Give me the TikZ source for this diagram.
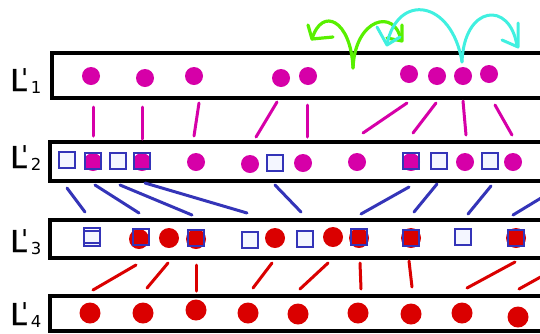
\documentclass[tikz,border=0pt]{standalone}
\usepackage{fontspec}
\setmainfont{DejaVu Sans}
\newfontfamily\boldL[FakeBold=1.2]{DejaVu Sans}
\definecolor{mag}{RGB}{214,0,168}
\definecolor{rd}{RGB}{218,0,0}
\definecolor{blu}{RGB}{52,52,184}
\definecolor{grn}{RGB}{88,240,0}
\definecolor{cyn}{RGB}{64,240,224}
\definecolor{sqfill}{RGB}{244,246,255}
\tikzset{
  lane/.style={draw=black, line width=3.5pt, anchor=north west, inner sep=0pt, outer sep=0pt},
  mdot/.style={circle, fill=mag, minimum size=18pt, inner sep=0pt},
  rdot/.style={circle, fill=rd, minimum size=20pt, inner sep=0pt},
  esq/.style={rectangle, draw=blu, line width=1.8pt, fill=sqfill, minimum size=16pt, inner sep=0pt},
  osq/.style={rectangle, draw=blu, line width=1.8pt, minimum size=16pt, inner sep=0pt},
  mline/.style={draw=mag, line width=3pt, line cap=round},
  bline/.style={draw=blu, line width=3pt, line cap=round},
  rline/.style={draw=rd, line width=3pt, line cap=round},
  garrow/.style={draw=grn, line width=3.2pt, line cap=round, line join=round},
  carrow/.style={draw=cyn, line width=3pt, line cap=round, line join=round},
  lab/.style={anchor=base west, inner sep=0pt, font=\fontsize{30}{30}\selectfont}
}
\newcommand{\lbl}[1]{{\boldL L}\kern-5.7pt\raisebox{4pt}{\fontsize{26}{26}\selectfont\textquotesingle}\kern2.5pt\raisebox{-2pt}{\fontsize{16.5}{16.5}\selectfont #1}}
\begin{document}
\begin{tikzpicture}[x=1pt,y=-1pt]
\useasboundingbox (0,0) rectangle (540,333);
\clip (0,0) rectangle (540,333);
% lanes
\node[lane, minimum width=493pt, minimum height=45pt] (L1) at (52,53) {};
\node[lane, minimum width=500pt, minimum height=39pt] (L2) at (50,142) {};
\node[lane, minimum width=500pt, minimum height=38pt] (L3) at (50,220) {};
\node[lane, minimum width=500pt, minimum height=35pt] (L4) at (50,296) {};
% labels
\node[lab] (t1) at (10,91) {\lbl{1}};
\node[lab] (t2) at (10,168) {\lbl{2}};
\node[lab] (t3) at (10,252) {\lbl{3}};
\node[lab] (t4) at (10,325) {\lbl{4}};
% row 1
\node[mdot] (a1) at (91,76) {};
\node[mdot] (a2) at (145,78) {};
\node[mdot] (a3) at (194,76) {};
\node[mdot] (a4) at (281,78) {};
\node[mdot] (a5) at (308,76) {};
\node[mdot] (a6) at (409,74) {};
\node[mdot] (a7) at (437,76) {};
\node[mdot] (a8) at (463,76) {};
\node[mdot] (a9) at (489,74) {};
% row 2
\node[esq] (b1) at (67,160) {};
\node[mdot] (b2) at (93,162) {};
\node[osq] (b2s) at (93,161) {};
\node[esq] (b3) at (118,161) {};
\node[mdot] (b4) at (142,162) {};
\node[osq] (b4s) at (142,161) {};
\node[mdot] (b5) at (196,162) {};
\node[mdot] (b6) at (250,164) {};
\node[esq] (b7) at (275,163) {};
\node[mdot] (b8) at (303,163) {};
\node[mdot] (b9) at (357,162) {};
\node[mdot] (b10) at (411,162) {};
\node[osq] (b10s) at (411,161) {};
\node[esq] (b11) at (439,161) {};
\node[mdot] (b12) at (465,162) {};
\node[esq] (b13) at (490,161) {};
\node[mdot] (b14) at (513,162) {};
% row 3
\node[esq, minimum height=15pt] (c1b) at (92,238.5) {};
\node[esq, minimum height=15pt, fill=none] (c1) at (92,235.5) {};
\node[rdot] (c2) at (139,239) {};
\node[osq] (c2s) at (141,237) {};
\node[rdot] (c3) at (169,238) {};
\node[rdot] (c4) at (196,239) {};
\node[osq] (c4s) at (196,238) {};
\node[esq] (c5) at (250,240) {};
\node[rdot] (c6) at (275,238) {};
\node[esq] (c7) at (305,239) {};
\node[rdot] (c8) at (333,237) {};
\node[rdot] (c9) at (359,238) {};
\node[osq] (c9s) at (359,237) {};
\node[rdot] (c10) at (411,238) {};
\node[osq] (c10s) at (411,238) {};
\node[esq] (c11) at (463,237) {};
\node[rdot] (c12) at (516,238) {};
\node[osq] (c12s) at (516,238) {};
% row 4
\node[rdot, minimum size=21pt] (d1) at (90,313) {};
\node[rdot, minimum size=21pt] (d2) at (143,313) {};
\node[rdot, minimum size=21pt] (d3) at (196,310) {};
\node[rdot, minimum size=21pt] (d4) at (248,313) {};
\node[rdot, minimum size=21pt] (d5) at (298,314) {};
\node[rdot, minimum size=21pt] (d6) at (358,313) {};
\node[rdot, minimum size=21pt] (d7) at (411,314) {};
\node[rdot, minimum size=21pt] (d8) at (462,313) {};
\node[rdot, minimum size=21pt] (d9) at (518,317) {};
% magenta links
\draw[mline] (93,107) -- (93,136);
\draw[mline] (142,107) -- (142,139);
\draw[mline] (199,103) -- (194,136);
\draw[mline] (277,102) -- (256,137);
\draw[mline] (307,105) -- (307,137);
\draw[mline] (407,103) -- (363,133);
\draw[mline] (436,103) -- (413,133);
\draw[mline] (463,101) -- (466,135);
\draw[mline] (495,105) -- (512,135);
% blue links
\draw[bline] (67,188) -- (85,212);
\draw[bline] (95,185) -- (139,213);
\draw[bline] (120,185) -- (192,215);
\draw[bline] (145,183) -- (247,213);
\draw[bline] (275,185) -- (301,212);
\draw[bline] (409,187) -- (361,214);
\draw[bline] (437,184) -- (414,212);
\draw[bline] (491,186) -- (468,214);
\draw[bline] (546,195) -- (513,215);
% red links
\draw[rline] (136,265) -- (93,290);
\draw[rline] (168,263) -- (147,288);
\draw[rline] (196,265) -- (196,291);
\draw[rline] (272,263) -- (253,288);
\draw[rline] (328,263) -- (300,289);
\draw[rline] (360,263) -- (361,289);
\draw[rline] (409,261) -- (412,287);
\draw[rline] (515,262) -- (467,288);
\draw[rline] (546,274) -- (519,289);
% green arrows
\coordinate (gs) at (353,68);
\draw[garrow] (gs) .. controls (351,20) and (322,6) .. (312,39);
\draw[garrow] (gs) .. controls (355,18) and (395,8) .. (401,40);
\draw[garrow] (308,25) -- (312,39) -- (333,37);
\draw[garrow] (402,25) -- (402,41) -- (387,38);
% cyan arrows
\coordinate (cs) at (462,62);
\draw[carrow] (cs) .. controls (452,0) and (398,-8) .. (387,44);
\draw[carrow] (cs) .. controls (464,5) and (510,0) .. (517,46);
\draw[carrow] (377,27) -- (387,45) -- (400,37);
\draw[carrow] (518,23) -- (518,47) -- (502,40);
\end{tikzpicture}
\end{document}
